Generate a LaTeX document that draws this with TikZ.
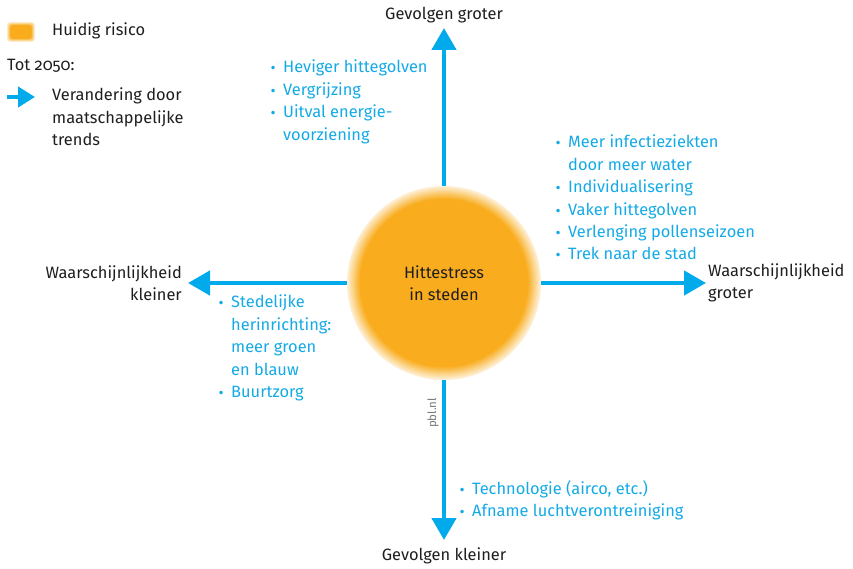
\documentclass[tikz,border=0pt]{standalone}
\usepackage{fontspec}
\setmainfont{Fira Sans}
\newfontfamily\puntfont{DejaVu Sans}
\usetikzlibrary{arrows.meta,positioning}

\definecolor{pblblauw}{RGB}{0,170,235}
\definecolor{trendblauw}{RGB}{20,170,230}
\definecolor{risicooranje}{RGB}{249,173,30}
\definecolor{pblgrijs}{RGB}{120,120,120}
\definecolor{tekstzwart}{RGB}{30,30,30}

\newcommand{\punt}{\makebox[14pt][l]{\hspace*{0.5pt}\puntfont\fontsize{12}{12}\selectfont •}}
\newcommand{\inspring}{\hspace*{14pt}}

\begin{document}
\begin{tikzpicture}[x=1pt,y=-1pt,
  font=\fontsize{16.4}{22.4}\selectfont,text=tekstzwart,
  pijl/.style={-{Triangle[width=24pt,length=22pt]},line width=4.5pt,draw=pblblauw},
  legendapijl/.style={pijl,-{Triangle[width=20pt,length=17pt]}},
  as/.style={inner sep=0pt},
  trend/.style={inner sep=0pt,align=left,anchor=north west,text=trendblauw},
  legenda/.style={inner sep=0pt,align=left,anchor=west}
  ]
  \useasboundingbox (0,0) rectangle (853,569);

  % legenda
  \foreach \i in {0,...,4}{
    \pgfmathtruncatemacro\sterk{20+80*\i/4}
    \fill[risicooranje!\sterk!white,rounded corners=3pt]
      ({7+\i*0.8},{22+\i*0.8}) rectangle ({35-\i*0.8},{42-\i*0.8});
  }
  \node[minimum width=28pt,minimum height=20pt,inner sep=0pt] (huidig) at (21,32) {};
  \node[legenda] (huidigtxt) at (52,31) {Huidig risico};
  \node[legenda] (tot) at (7,66) {Tot {\addfontfeatures{Numbers=OldStyle}2050}:};
  \coordinate (lbegin) at (7,97);
  \coordinate (leind) at (35,97);
  \draw[legendapijl] (lbegin) -- (leind);
  \node[legenda,anchor=north west] (verandering) at (52,88)
    {Verandering door\\maatschappelijke\\trends};

  % risico in het midden, met zachte rand
  \foreach \i in {0,...,16}{
    \pgfmathtruncatemacro\sterk{18+82*\i/16}
    \fill[risicooranje!\sterk!white] (444,283) circle[radius={97-0.8*\i}];
  }
  \node[circle,minimum size=194pt,align=center] (risico) at (444,283)
    {Hittestress\\in steden};

  % assen
  \coordinate (boven) at (444,28);
  \coordinate (onder) at (444,540);
  \coordinate (links) at (188,283);
  \coordinate (rechts) at (706,283);
  \draw[pijl] (risico) -- (boven);
  \draw[pijl] (risico) -- (onder);
  \draw[pijl] (risico) -- (links);
  \draw[pijl] (risico) -- (rechts);

  \node[as,above=5pt of boven] (groter) {Gevolgen groter};
  \node[as,below=8pt of onder] (kleiner) {Gevolgen kleiner};
  \node[as,align=right,left=6pt of links] (wklein) {Waarschijnlijkheid\\kleiner};
  \node[as,align=left,right=2pt of rechts] (wgroot) {Waarschijnlijkheid\\groter};

  \node[as,rotate=90,text=pblgrijs,font=\fontsize{11.5}{13}\selectfont] (bron) at (433,413) {pbl.nl};

  % trends
  \node[trend] (trendboven) at (269,60)
    {\punt Heviger hittegolven\\\punt Vergrijzing\\\punt Uitval energie-\\\inspring voorziening};
  \node[trend] (trendrechts) at (554,135)
    {\punt Meer infectieziekten\\\inspring door meer water\\\punt Individualisering\\
     \punt Vaker hittegolven\\\punt Verlenging pollenseizoen\\\punt Trek naar de stad};
  \node[trend] (trendlinks) at (217,295)
    {\punt Stedelijke\\\inspring herinrichting:\\\inspring meer groen\\\inspring en blauw\\\punt Buurtzorg};
  \node[trend] (trendonder) at (458,480)
    {\punt Technologie (airco, etc.)\\\punt Afname luchtverontreiniging};

\end{tikzpicture}
\end{document}
